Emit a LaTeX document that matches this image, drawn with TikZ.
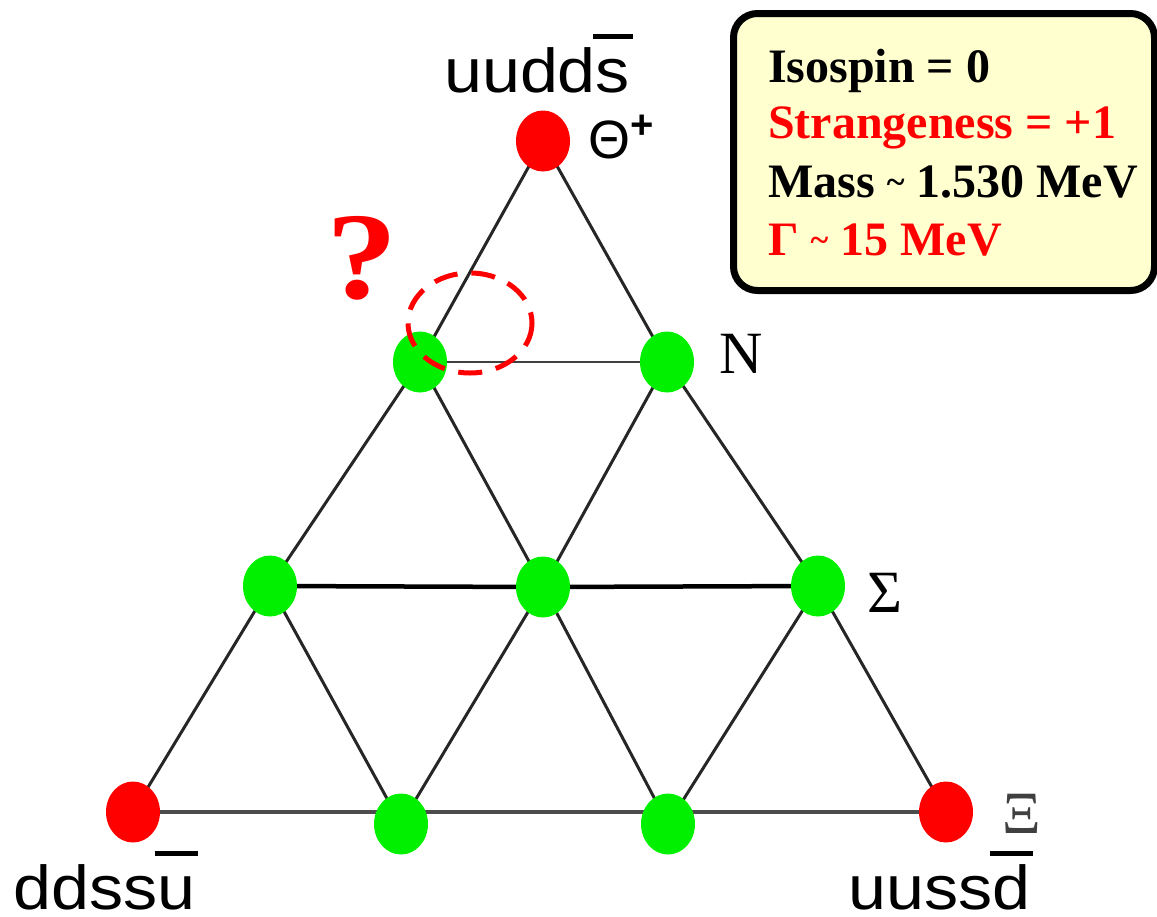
\documentclass[tikz,border=0pt]{standalone}
\usepackage{fontspec}
\usepackage{graphicx}
\setmainfont{Liberation Serif}
\newfontfamily\arialf{Liberation Sans}
\usetikzlibrary{shapes.geometric,backgrounds}
\definecolor{boxyellow}{RGB}{255,255,208}
\definecolor{dotgreen}{RGB}{0,240,0}
\definecolor{dotred}{RGB}{255,0,0}
\newcommand\myob[1]{\setbox0\hbox{#1}\rlap{\hspace{-0.04em}\raisebox{0.85em}{\rule{\dimexpr\wd0+0.08em\relax}{0.08em}}}\box0}
\newcommand\mytil{{\fontsize{34}{34}\selectfont\raisebox{0.1em}{\textasciitilde}}}
\tikzset{
  dot/.style={ellipse, inner sep=0pt, minimum width=54pt, minimum height=61pt},
  reddot/.style={dot, fill=dotred},
  greendot/.style={dot, fill=dotgreen},
  edge/.style={line width=3pt, black!85},
  quark/.style={inner sep=0pt, anchor=base west, font=\arialf\fontsize{62}{62}\selectfont},
  multlabel/.style={inner sep=0pt, anchor=base west, font=\fontsize{60}{60}\selectfont},
  infoline/.style={inner sep=0pt, anchor=base west, font=\bfseries\fontsize{48}{48}\selectfont},
}
\begin{document}
\begin{tikzpicture}[x=1pt,y=-1pt]
\useasboundingbox (0,0) rectangle (1157,916);
% info box
\node[draw, line width=7pt, rounded corners=24pt, fill=boxyellow, anchor=north west,
      minimum width=421pt, minimum height=277pt, inner sep=0pt] (info) at (730,10) {};
\node[infoline] (iso) at (768,82) {Isospin = 0};
\node[infoline, text=red] (str) at (768,138) {Strangeness = +1};
\node[infoline] (mass) at (768,197) {Mass \mytil{} 1.530 MeV};
\node[infoline, text=red] (gam) at (768,255) {Γ \mytil{} 15 MeV};
% dots
\node[reddot] (T) at (543,141) {};
\node[greendot] (L2) at (420,362) {};
\node[greendot] (R2) at (667,362) {};
\node[greendot] (L3) at (270,586) {};
\node[greendot] (M3) at (543,587) {};
\node[greendot] (R3) at (818,586) {};
\node[reddot] (BL) at (133,812) {};
\node[greendot] (B2) at (401,824) {};
\node[greendot] (B3) at (668,824) {};
\node[reddot] (BR) at (946,812) {};
% edges
\begin{scope}[on background layer]
\draw[edge] (T.center) -- (L2.center) -- (L3.center) -- (BL.center);
\draw[edge] (T.center) -- (R2.center) -- (R3.center) -- (BR.center);
\draw[edge, line width=2.5pt, black!75] (L2.center) -- (R2.center);
\draw[edge, line width=4.5pt, black] (L3.center) -- (M3.center) -- (R3.center);
\draw[edge, line width=4.5pt, black!70] (BL.center) -- (BR.center);
\draw[edge] (L2.center) -- (M3.center) -- (B3.center);
\draw[edge] (R2.center) -- (M3.center) -- (B2.center);
\draw[edge] (L3.center) -- (B2.center);
\draw[edge] (R3.center) -- (B3.center);
\end{scope}
% labels
\node[quark] (qT) at (444,92) {\scalebox{1.1}[1]{uudd\myob{s}}};
\node[quark] (qBL) at (13,909) {\scalebox{1.1}[1]{ddss\myob{u}}};
\node[quark] (qBR) at (848,909) {\scalebox{1.1}[1]{uuss\myob{d}}};
\node[inner sep=0pt, anchor=base west, font=\arialf\fontsize{54}{54}\selectfont] (theta) at (588,158)
  {Θ\raisebox{0.36em}{\fontsize{40}{40}\selectfont\bfseries +}};
\node[multlabel] (nlab) at (719,373) {N};
\node[multlabel] (slab) at (867,612) {Σ};
\node[multlabel, text=black!75] (xlab) at (1002,833) {Ξ};
\node[inner sep=0pt, anchor=base west, text=red, font=\bfseries\fontsize{124}{124}\selectfont] (qm) at (326,298) {\scalebox{1.15}[1]{?}};
\draw[red, line width=5pt, dash pattern=on 24pt off 14pt] (470,323) ellipse [x radius=62, y radius=50];
\end{tikzpicture}
\end{document}
